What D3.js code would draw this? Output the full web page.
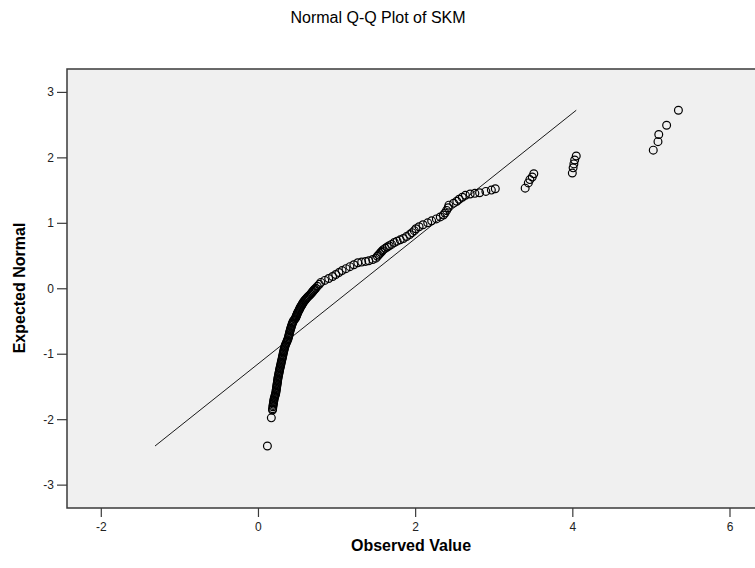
<!DOCTYPE html>
<html>
<head>
<meta charset="utf-8">
<script src="https://cdn.jsdelivr.net/npm/d3@7"></script>
<style>
  body { margin: 0; background: #fff; }
  text { font-family: "Liberation Sans", Arial, sans-serif; }
</style>
</head>
<body>
<div id="qq-graph"></div>
<script>
var observedValue = [
  0.12, 0.17,
  0.185, 0.187, 0.19, 0.192, 0.195, 0.198, 0.20, 0.203, 0.205, 0.21, 0.215, 0.22, 0.225, 0.228,
  0.23, 0.233, 0.235, 0.238, 0.24, 0.243, 0.245, 0.248, 0.25, 0.252, 0.255, 0.258, 0.262, 0.265,
  0.268, 0.272, 0.275, 0.278, 0.282, 0.286, 0.29, 0.293, 0.297, 0.30, 0.305, 0.308, 0.312, 0.315,
  0.319, 0.322, 0.326, 0.33, 0.334, 0.338, 0.343, 0.348, 0.355, 0.362, 0.37, 0.376, 0.383, 0.388,
  0.392, 0.396, 0.40, 0.404, 0.408, 0.413, 0.418, 0.423, 0.428, 0.434, 0.44, 0.447, 0.455, 0.47,
  0.48, 0.485, 0.49, 0.495, 0.50, 0.505, 0.51, 0.518, 0.525, 0.53, 0.535, 0.542, 0.55, 0.558,
  0.565, 0.572, 0.58, 0.59, 0.60, 0.61, 0.62, 0.632, 0.645, 0.658, 0.67, 0.68, 0.69, 0.70,
  0.71, 0.722, 0.735, 0.755, 0.78, 0.80,
  0.85, 0.90, 0.95, 0.99, 1.03, 1.07, 1.12, 1.17, 1.22, 1.27,
  1.32, 1.37, 1.41, 1.46, 1.50,
  1.52, 1.535, 1.55, 1.565, 1.58, 1.595, 1.62, 1.645, 1.67, 1.70, 1.735, 1.77, 1.81,
  1.85, 1.89, 1.93, 1.96, 1.99, 2.01, 2.05, 2.10, 2.16, 2.21, 2.27, 2.32, 2.36,
  2.38, 2.40, 2.42, 2.43, 2.49, 2.53, 2.56, 2.60, 2.64, 2.70, 2.76, 2.82, 2.90, 2.97, 3.02,
  3.40, 3.44, 3.46, 3.49, 3.51,
  4.00, 4.01, 4.02, 4.03, 4.05,
  5.03, 5.09, 5.10, 5.20, 5.35
];
var expectedNormal = [
  -2.41, -1.98,
  -1.86, -1.84, -1.81, -1.79, -1.77, -1.75, -1.73, -1.71, -1.69, -1.67, -1.65, -1.63, -1.61, -1.59,
  -1.57, -1.55, -1.53, -1.51, -1.49, -1.47, -1.45, -1.43, -1.41, -1.39, -1.37, -1.35, -1.33, -1.31,
  -1.29, -1.27, -1.25, -1.23, -1.21, -1.19, -1.17, -1.15, -1.13, -1.11, -1.09, -1.07, -1.05, -1.03,
  -1.01, -0.99, -0.97, -0.95, -0.93, -0.91, -0.89, -0.87, -0.85, -0.83, -0.81, -0.79, -0.77, -0.75,
  -0.73, -0.71, -0.69, -0.67, -0.65, -0.63, -0.61, -0.59, -0.57, -0.55, -0.53, -0.51, -0.49, -0.47,
  -0.45, -0.435, -0.42, -0.405, -0.39, -0.375, -0.36, -0.345, -0.33, -0.315, -0.30, -0.285, -0.27, -0.255,
  -0.24, -0.225, -0.21, -0.195, -0.18, -0.165, -0.15, -0.135, -0.12, -0.105, -0.09, -0.075, -0.06, -0.045,
  -0.03, -0.015, 0.00, 0.03, 0.06, 0.09,
  0.12, 0.15, 0.18, 0.21, 0.24, 0.27, 0.30, 0.33, 0.36, 0.39,
  0.40, 0.41, 0.42, 0.44, 0.46,
  0.49, 0.51, 0.53, 0.55, 0.57, 0.59, 0.61, 0.63, 0.65, 0.67, 0.70, 0.72, 0.74,
  0.76, 0.79, 0.82, 0.85, 0.88, 0.91, 0.94, 0.97, 1.00, 1.03, 1.06, 1.09, 1.12,
  1.15, 1.19, 1.23, 1.27, 1.30, 1.33, 1.36, 1.39, 1.42, 1.44, 1.45, 1.46, 1.48, 1.50, 1.52,
  1.53, 1.61, 1.66, 1.70, 1.75,
  1.76, 1.84, 1.90, 1.96, 2.02,
  2.11, 2.24, 2.35, 2.49, 2.72
];

// Fitted normal line endpoints
var lineObserved = [-1.31, 4.05];
var lineExpected = [-2.41, 2.72];

var xTicks = [-2, 0, 2, 4, 6];
var yTicks = [-3, -2, -1, 0, 1, 2, 3];

var width = 755, height = 568;
var plot = { left: 67, top: 69, right: 757, bottom: 508 };

var svg = d3.select('#qq-graph').append('svg')
  .attr('width', width).attr('height', height);

var x = d3.scaleLinear().domain([-2.43, 6.35]).range([plot.left, plot.right]);
var y = d3.scaleLinear().domain([-3.357, 3.35]).range([plot.bottom, plot.top]);

// plot background and frame
svg.append('rect')
  .attr('x', plot.left).attr('y', plot.top)
  .attr('width', plot.right - plot.left).attr('height', plot.bottom - plot.top)
  .attr('fill', '#f0f0f0')
  .attr('stroke', '#3a3a3a').attr('stroke-width', 1.5);

// axes (plain hyphen labels, no decimals)
var fmt = function(d) { return String(d); };
var xAxis = svg.append('g')
  .attr('transform', 'translate(0,' + plot.bottom + ')')
  .call(d3.axisBottom(x).tickValues(xTicks).tickFormat(fmt)
    .tickSize(9).tickSizeOuter(0).tickPadding(5));
var yAxis = svg.append('g')
  .attr('transform', 'translate(' + plot.left + ',0)')
  .call(d3.axisLeft(y).tickValues(yTicks).tickFormat(fmt)
    .tickSize(10).tickSizeOuter(0).tickPadding(3));

[xAxis, yAxis].forEach(function(g) {
  g.select('.domain').remove();
  g.selectAll('line').attr('stroke', '#3a3a3a').attr('stroke-width', 1.2);
  g.selectAll('text')
    .attr('font-family', '"Liberation Sans", Arial, sans-serif')
    .attr('font-size', 12).attr('fill', '#222');
});

// reference line
svg.append('line')
  .attr('x1', x(lineObserved[0])).attr('y1', y(lineExpected[0]))
  .attr('x2', x(lineObserved[1])).attr('y2', y(lineExpected[1]))
  .attr('stroke', '#000').attr('stroke-width', 0.9);

// points
svg.append('g').selectAll('circle')
  .data(d3.range(observedValue.length))
  .enter().append('circle')
    .attr('cx', function(i) { return x(observedValue[i]); })
    .attr('cy', function(i) { return y(expectedNormal[i]); })
    .attr('r', 3.9)
    .attr('fill', 'none')
    .attr('stroke', '#000').attr('stroke-width', 1.2);

// titles
svg.append('text')
  .attr('x', 378).attr('y', 23)
  .attr('text-anchor', 'middle').attr('font-size', 16)
  .text('Normal Q-Q Plot of SKM');
svg.append('text')
  .attr('x', 411).attr('y', 551)
  .attr('text-anchor', 'middle').attr('font-size', 16).attr('font-weight', 'bold')
  .text('Observed Value');
svg.append('text')
  .attr('transform', 'translate(25,288) rotate(-90)')
  .attr('text-anchor', 'middle').attr('font-size', 16).attr('font-weight', 'bold')
  .text('Expected Normal');
</script>
</body>
</html>
